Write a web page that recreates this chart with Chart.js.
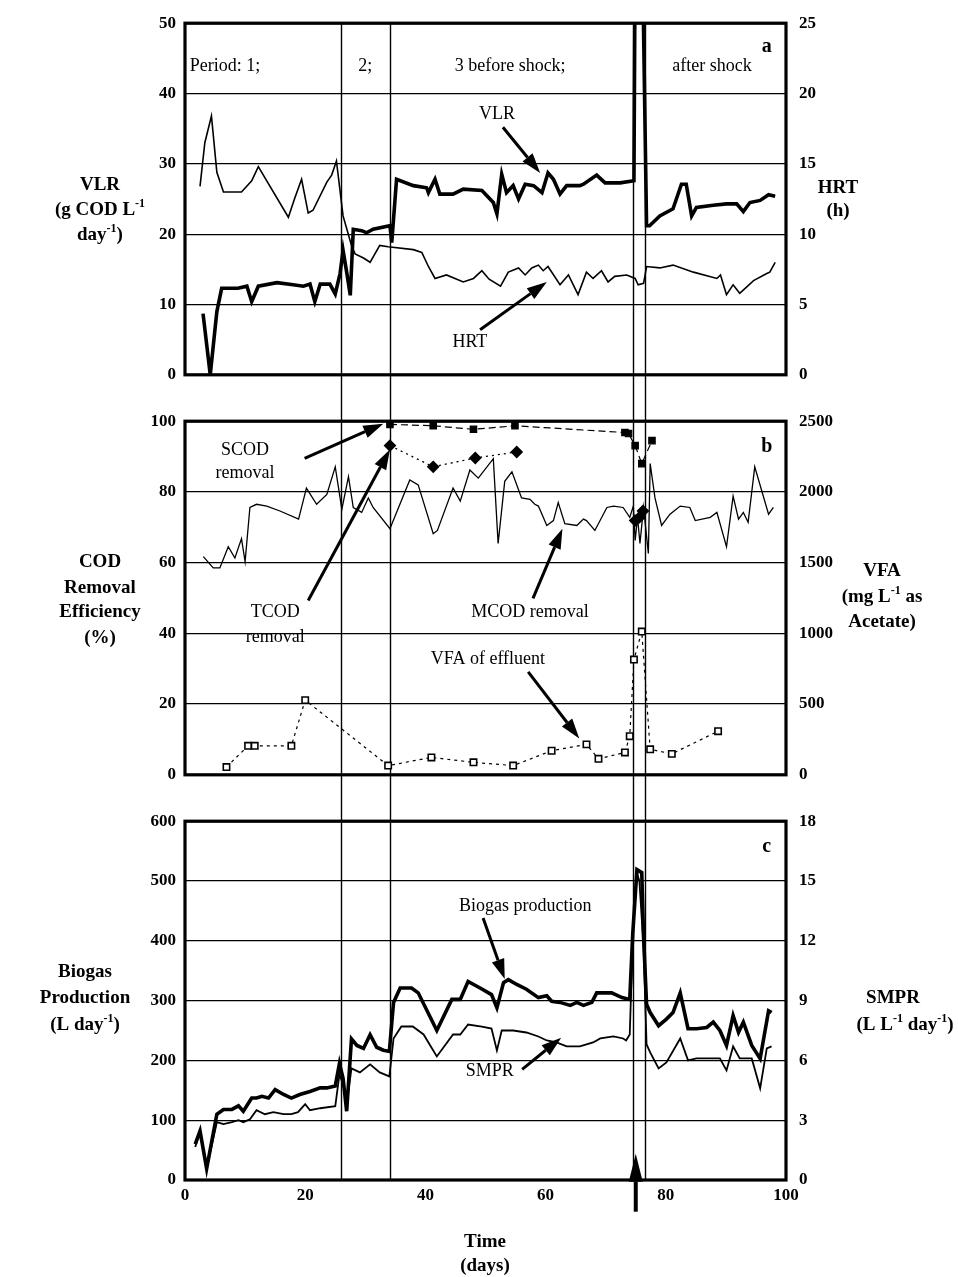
<!DOCTYPE html>
<html><head><meta charset="utf-8">
<script src="https://cdn.jsdelivr.net/npm/chart.js@4.4.1/dist/chart.umd.min.js"></script>
<style>
html,body{margin:0;padding:0;background:#fff;}
#wrap{position:relative;width:958px;height:1277px;overflow:hidden;}
.pane{position:absolute;left:0;width:958px;}
canvas{display:block;}
</style></head><body>
<div id="wrap">
<div class="pane" style="top:0;height:398px"><canvas id="ca" width="958" height="398"></canvas></div>
<div class="pane" style="top:398px;height:400px"><canvas id="cb" width="958" height="400"></canvas></div>
<div class="pane" style="top:798px;height:479px"><canvas id="cc" width="958" height="479"></canvas></div>
</div>
<script>
// ---------- DATA (day, value) ----------
const periodLines = [26, 34.1, 74.5, 76.5];
const xTicks = [0, 20, 40, 60, 80, 100];

// Panel a
const vlrPoints = [[3.0,8.7],[4.2,0],[5.3,9],[6.1,12.3],[7.5,12.3],[8.8,12.3],[10.3,12.6],[11.1,10.4],[12.2,12.6],[15.3,13.1],[18.0,12.8],[19.7,12.6],[20.8,12.9],[21.6,10.4],[22.5,12.9],[24.1,12.9],[25.0,11.5],[25.8,14.4],[26.3,17.7],[26.9,14.6],[27.5,11.3],[28.0,20.7],[29.4,20.5],[30.2,20.2],[31.3,20.7],[34.1,21.2],[34.4,18.8],[35.2,27.8],[38.0,26.9],[40.2,26.6],[40.5,25.9],[41.6,27.8],[42.4,25.7],[44.6,25.7],[46.3,26.4],[49.4,26.2],[51.3,24.5],[51.9,22.9],[52.7,28.5],[53.5,25.9],[54.6,26.9],[55.5,25.0],[56.6,27.1],[58.0,26.9],[59.4,25.9],[60.4,28.7],[61.3,27.8],[62.4,25.7],[63.5,26.9],[65.7,26.9],[66.3,27.1],[68.5,28.4],[69.9,27.3],[72.4,27.3],[74.7,27.6],[74.9,60],[76.1,60],[76.8,21.2],[77.3,21.2],[79.0,22.6],[81.2,23.6],[82.6,27.1],[83.4,27.1],[84.3,22.6],[85.1,23.8],[87.9,24.1],[90.1,24.3],[91.8,24.3],[92.9,23.2],[94.0,24.5],[95.7,24.8],[97.1,25.6],[98.2,25.4]];
const hrtPoints = [[2.5,13.4],[3.3,16.5],[4.4,18.4],[5.3,14.4],[6.4,13.0],[9.4,13.0],[11.1,13.8],[12.2,14.8],[17.2,11.2],[18.3,12.6],[19.4,13.9],[20.5,11.5],[21.3,11.7],[23.6,13.7],[24.4,14.2],[25.2,15.2],[26.3,11.3],[26.9,10.4],[27.7,9.2],[28.3,8.6],[29.7,8.3],[30.8,8.0],[32.4,9.2],[33.8,9.1],[38.0,8.9],[39.4,8.7],[40.5,7.7],[41.6,6.85],[43.5,7.1],[46.3,6.6],[48.0,6.85],[49.4,7.4],[50.6,6.8],[52.5,6.3],[53.8,7.3],[55.5,7.6],[56.6,7.1],[57.7,7.6],[58.8,7.8],[59.6,7.4],[60.4,7.7],[62.4,6.4],[63.8,7.1],[65.4,5.7],[66.8,7.3],[67.9,6.85],[69.3,7.4],[70.4,6.6],[71.5,7.0],[73.5,7.1],[74.9,6.85],[75.4,6.4],[76.3,6.5],[76.8,7.7],[79.0,7.6],[81.2,7.8],[84.6,7.3],[88.5,6.85],[89.1,7.1],[90.1,5.7],[91.2,6.4],[92.3,5.8],[94.6,6.7],[96.8,7.2],[97.3,7.3],[98.2,8.0]];

// Panel b
const mcodPoints = [[3.05,61.7],[4.7,58.5],[5.8,58.5],[7.2,64.5],[8.3,61.3],[9.4,66.8],[10.0,60.3],[10.8,75.6],[11.9,76.5],[13.6,76.0],[15.8,74.6],[18.9,72.3],[20.2,81.1],[21.9,76.5],[23.6,79.3],[25.0,87.1],[26.1,75.1],[27.2,84.3],[28.0,75.6],[29.4,74.2],[30.5,78.3],[31.3,75.6],[34.1,69.6],[37.4,83.4],[38.8,82.0],[41.3,68.2],[42.0,69.1],[44.6,81.1],[45.8,77.4],[47.4,86.2],[48.8,83.9],[51.3,89.4],[52.1,65.4],[53.2,83.0],[54.4,85.7],[56.0,78.3],[57.4,77.9],[58.2,76.5],[58.8,76.0],[60.2,70.5],[61.3,71.9],[62.1,77.0],[63.2,71.0],[65.2,70.5],[66.3,72.3],[66.8,71.9],[68.2,69.1],[70.2,75.6],[71.3,76.0],[72.9,75.6],[74.0,72.8],[74.6,76.0],[74.9,66.3],[75.3,72.8],[75.7,65.4],[76.3,75.6],[77.1,62.6],[77.4,88.0],[78.2,78.3],[79.3,70.5],[80.7,73.7],[82.4,76.0],[84.0,75.6],[84.9,71.9],[87.4,72.8],[88.5,74.2],[90.1,64.5],[91.2,78.8],[92.1,72.3],[92.9,74.2],[93.7,71.4],[94.8,87.1],[97.1,73.7],[97.9,75.6]];
const scodPoints = [[34.1,99.1],[41.3,98.7],[48.0,97.7],[54.9,98.7],[73.2,96.8],[73.8,96.5],[74.9,93.1],[76.0,88.0],[77.7,94.5]];
const tcodPoints = [[34.1,93.1],[41.3,87.1],[48.3,89.6],[55.2,91.3],[65.0,null],[74.9,71.9],[75.6,72.8],[76.2,74.6]];
const vfaPoints = [[6.9,55],[10.5,205],[11.6,205],[17.7,205],[20.0,528],[33.8,65],[41.0,123],[48.0,88],[54.6,65],[61.0,170],[66.8,215],[68.8,113],[73.2,158],[74.0,273],[74.7,815],[76.0,1013],[77.4,180],[81.0,148],[88.7,308]];

// Panel c
const biogasPoints = [[1.7,60],[2.5,82],[3.6,19],[5.3,110],[6.4,118],[7.8,118],[8.9,124],[9.7,115],[11.1,137],[11.9,137],[12.8,140],[13.9,137],[15.0,151],[16.4,143],[17.7,137],[19.1,143],[20.8,148],[22.5,154],[23.6,154],[25.0,157],[25.7,195],[26.3,170],[26.9,115],[27.7,236],[28.6,225],[29.7,220],[30.8,243],[31.9,222],[33.0,217],[34.0,215],[34.7,297],[35.8,321],[37.7,321],[38.8,313],[41.9,250],[44.4,302],[45.8,302],[47.1,332],[49.1,321],[51.0,310],[51.9,288],[53.0,330],[53.8,335],[55.2,327],[56.8,319],[58.8,305],[60.2,308],[61.0,299],[62.4,297],[64.1,292],[65.2,297],[66.3,292],[67.7,297],[68.5,313],[71.0,313],[72.7,305],[74.0,302],[74.5,412],[75.2,519],[76.0,514],[76.3,407],[76.8,294],[77.4,280],[78.8,258],[80.1,269],[81.2,280],[82.4,313],[83.7,253],[85.1,253],[86.8,255],[87.9,264],[89.0,250],[90.1,225],[91.2,275],[92.1,247],[92.9,264],[94.3,225],[95.7,203],[97.1,283],[97.6,280]];
const smprPoints = [[1.7,1.66],[2.5,2.4],[3.6,0.58],[5.3,2.9],[6.4,2.8],[7.8,2.9],[8.9,3.0],[9.7,2.9],[10.8,3.05],[11.9,3.5],[13.3,3.3],[14.7,3.4],[16.4,3.3],[17.7,3.3],[18.8,3.4],[20.0,3.8],[20.8,3.5],[22.5,3.6],[25.0,3.7],[25.7,5.3],[26.3,4.8],[26.9,3.8],[27.7,5.6],[29.1,5.4],[30.8,5.8],[32.4,5.4],[34.0,5.2],[34.7,7.1],[36.0,7.7],[37.9,7.7],[39.7,7.3],[41.9,6.2],[44.6,7.3],[45.8,7.3],[47.1,7.8],[49.4,7.7],[51.0,7.6],[51.9,6.5],[52.7,7.5],[54.6,7.5],[56.8,7.4],[58.8,7.2],[60.2,7.0],[61.8,6.9],[63.5,6.7],[65.7,6.7],[67.9,6.9],[69.1,7.1],[71.3,7.2],[72.9,7.1],[73.4,7.0],[74.0,7.3],[74.6,12.9],[75.2,15.4],[75.6,15.0],[76.3,11.7],[76.8,6.8],[77.4,6.4],[78.8,5.6],[80.1,5.9],[82.4,7.1],[83.7,6.0],[85.1,6.1],[87.9,6.1],[89.0,6.1],[90.1,5.5],[91.2,6.7],[92.3,6.1],[94.3,6.1],[95.7,4.6],[96.8,6.6],[97.6,6.7]];

// ---------- helpers ----------
const FONT = '"Liberation Serif", "Times New Roman", serif';
const xy = pts => pts.map(([x, y]) => ({x, y}));

function segFont(size, sup, bold){ return `${bold ? 'bold ' : ''}${sup ? Math.round(size * 0.62) : size}px ${FONT}`; }
function drawRich(ctx, segs, cx, cy, size, bold, align){
  let w = 0;
  for (const [t, s] of segs){ ctx.font = segFont(size, s, bold); w += ctx.measureText(t).width; }
  let x = align === 'left' ? cx : cx - w / 2;
  ctx.textAlign = 'left'; ctx.textBaseline = 'middle';
  for (const [t, s] of segs){
    ctx.font = segFont(size, s, bold);
    ctx.fillText(t, x, s ? cy - size * 0.32 : cy);
    x += ctx.measureText(t).width;
  }
}
function drawArrow(ctx, x1, y1, x2, y2, lw, hl, hw){
  const a = Math.atan2(y2 - y1, x2 - x1);
  const bx = x2 - hl * Math.cos(a), by = y2 - hl * Math.sin(a);
  ctx.lineWidth = lw; ctx.lineCap = 'butt';
  ctx.beginPath(); ctx.moveTo(x1, y1); ctx.lineTo(bx, by); ctx.stroke();
  ctx.beginPath();
  ctx.moveTo(x2, y2);
  ctx.lineTo(bx + hw * Math.sin(a), by - hw * Math.cos(a));
  ctx.lineTo(bx - hw * Math.sin(a), by + hw * Math.cos(a));
  ctx.closePath(); ctx.fill();
}

const deco = {
  id: 'deco',
  beforeDatasetsDraw(chart, args, o){
    const {ctx, chartArea: ca, scales} = chart;
    ctx.save(); ctx.strokeStyle = '#000'; ctx.lineWidth = 1.4;
    const top = o.vTop === 'area' ? ca.top : 0;
    const bot = o.vBottom === 'area' ? ca.bottom : chart.height;
    for (const d of periodLines){
      const px = Math.round(scales.x.getPixelForValue(d)) + 0.5;
      ctx.beginPath(); ctx.moveTo(px, top); ctx.lineTo(px, bot); ctx.stroke();
    }
    ctx.restore();
  },
  afterDatasetsDraw(chart){
    const {ctx, chartArea: ca} = chart;
    ctx.save(); ctx.strokeStyle = '#000'; ctx.lineWidth = 3.2;
    ctx.strokeRect(ca.left, ca.top, ca.width, ca.height);
    ctx.restore();
  },
  afterDraw(chart, args, o){
    const {ctx, scales} = chart;
    ctx.save(); ctx.fillStyle = '#000'; ctx.strokeStyle = '#000';
    for (const t of (o.titles || [])){
      drawRich(ctx, t.segs, t.x, t.y - o.offset, t.size || 19, true, 'center');
    }
    for (const n of (o.notes || [])){
      const ys = scales[n.axis || 'y'];
      drawRich(ctx, [[n.t, 0]], scales.x.getPixelForValue(n.x), ys.getPixelForValue(n.y), n.size || 18, !!n.bold, n.align || 'center');
    }
    for (const a of (o.arrows || [])){
      const ys = scales[a.axis || 'y'];
      drawArrow(ctx, scales.x.getPixelForValue(a.x1), ys.getPixelForValue(a.y1),
        scales.x.getPixelForValue(a.x2), ys.getPixelForValue(a.y2), a.lw || 3, a.hl || 20, a.hw || 6.5);
    }
    ctx.restore();
  }
};
Chart.register(deco);

function yAxis(pos, min, max, step, grid){
  return {
    type: 'linear', position: pos, min, max,
    ticks: {stepSize: step, color: '#000', font: {family: FONT, weight: 'bold', size: 17}, padding: pos === 'left' ? 9 : 13,
      callback: v => String(v)},
    grid: {display: grid, color: '#000', lineWidth: 1.3, drawTicks: false},
    border: {display: false},
    afterFit(s){ s.width = pos === 'left' ? 185 : 172; }
  };
}
function xAxis(show){
  return {
    type: 'linear', min: 0, max: 100, display: show,
    ticks: {stepSize: 20, color: '#000', font: {family: FONT, weight: 'bold', size: 17}, padding: 5, maxRotation: 0, autoSkip: false,
      callback: v => String(v)},
    afterBuildTicks(s){ s.ticks = xTicks.map(v => ({value: v})); },
    grid: {display: false, drawTicks: false},
    border: {display: false},
    afterFit(s){ if (show) s.height = 97; }
  };
}
const base = (extra) => Object.assign({
  responsive: false, animation: false,
  plugins: {legend: {display: false}, tooltip: {enabled: false}},
  elements: {line: {tension: 0}, point: {radius: 0}}
}, extra);

// ---------- Panel a ----------
new Chart(document.getElementById('ca'), {
  type: 'line',
  data: {datasets: [
    {label: 'VLR', data: xy(vlrPoints), yAxisID: 'y', borderColor: '#000', borderWidth: 3.6, pointRadius: 0},
    {label: 'HRT', data: xy(hrtPoints), yAxisID: 'y1', borderColor: '#000', borderWidth: 1.6, pointRadius: 0}
  ]},
  options: base({
    layout: {padding: {top: 18, bottom: 20, left: 0, right: 0}},
    scales: {x: xAxis(false), y: yAxis('left', 0, 50, 10, true), y1: yAxis('right', 0, 25, 5, false)},
    plugins: {legend: {display: false}, tooltip: {enabled: false}, deco: {
      offset: 0, vTop: 'area', vBottom: 'canvas',
      titles: [
        {segs: [['VLR', 0]], x: 100, y: 185},
        {segs: [['(g COD L', 0], ['-1', 1]], x: 100, y: 210},
        {segs: [['day', 0], ['-1', 1], [')', 0]], x: 100, y: 235},
        {segs: [['HRT', 0]], x: 838, y: 188},
        {segs: [['(h)', 0]], x: 838, y: 211}
      ],
      notes: [
        {t: 'Period: 1;', x: 0.8, y: 43.9, align: 'left'},
        {t: '2;', x: 30, y: 43.9},
        {t: '3 before shock;', x: 54.1, y: 43.9},
        {t: 'after shock', x: 87.7, y: 43.9},
        {t: 'a', x: 96.8, y: 46.7, bold: true, size: 20},
        {t: 'VLR', x: 51.9, y: 37.0},
        {t: 'HRT', x: 47.4, y: 4.6}
      ],
      arrows: [
        {x1: 52.9, y1: 35.2, x2: 59.1, y2: 28.7},
        {x1: 49.1, y1: 6.4, x2: 60.2, y2: 13.2}
      ]
    }}
  })
});

// ---------- Panel b ----------
new Chart(document.getElementById('cb'), {
  type: 'line',
  data: {datasets: [
    {label: 'MCOD removal', data: xy(mcodPoints), yAxisID: 'y', borderColor: '#000', borderWidth: 1.3, pointRadius: 0},
    {label: 'SCOD removal', data: xy(scodPoints), yAxisID: 'y', borderColor: '#000', borderWidth: 1.2, borderDash: [7, 4],
      pointStyle: 'rect', pointRadius: 4.5, pointBackgroundColor: '#000', pointBorderColor: '#000'},
    {label: 'TCOD removal', data: xy(tcodPoints), yAxisID: 'y', borderColor: '#000', borderWidth: 1.3, borderDash: [2, 4], spanGaps: false,
      pointStyle: 'rectRot', pointRadius: 5.5, pointBackgroundColor: '#000', pointBorderColor: '#000'},
    {label: 'VFA of effluent', data: xy(vfaPoints), yAxisID: 'y1', borderColor: '#000', borderWidth: 1.2, borderDash: [3, 4],
      pointStyle: 'rect', pointRadius: 4.5, pointBackgroundColor: '#fff', pointBorderColor: '#000', pointBorderWidth: 1.6}
  ]},
  options: base({
    layout: {padding: {top: 19, bottom: 20, left: 0, right: 0}},
    scales: {x: xAxis(false), y: yAxis('left', 0, 100, 20, true), y1: yAxis('right', 0, 2500, 500, false)},
    plugins: {legend: {display: false}, tooltip: {enabled: false}, deco: {
      offset: 398, vTop: 'canvas', vBottom: 'canvas',
      titles: [
        {segs: [['COD', 0]], x: 100, y: 562},
        {segs: [['Removal', 0]], x: 100, y: 588},
        {segs: [['Efficiency', 0]], x: 100, y: 612},
        {segs: [['(%)', 0]], x: 100, y: 638},
        {segs: [['VFA', 0]], x: 882, y: 571},
        {segs: [['(mg L', 0], ['-1', 1], [' as', 0]], x: 882, y: 597},
        {segs: [['Acetate)', 0]], x: 882, y: 622}
      ],
      notes: [
        {t: 'SCOD', x: 10, y: 91.7},
        {t: 'removal', x: 10, y: 85.3},
        {t: 'TCOD', x: 15, y: 46},
        {t: 'removal', x: 15, y: 38.8},
        {t: 'b', x: 96.8, y: 92.8, bold: true, size: 20},
        {t: 'MCOD removal', x: 57.4, y: 46},
        {t: 'VFA of effluent', x: 50.4, y: 32.7}
      ],
      arrows: [
        {x1: 19.9, y1: 89.5, x2: 33.0, y2: 99.3},
        {x1: 20.5, y1: 49.3, x2: 34.1, y2: 92.0},
        {x1: 57.9, y1: 49.9, x2: 62.8, y2: 69.6},
        {x1: 57.1, y1: 29.1, x2: 65.6, y2: 10.3}
      ]
    }}
  })
});

// ---------- Panel c ----------
new Chart(document.getElementById('cc'), {
  type: 'line',
  data: {datasets: [
    {label: 'Biogas production', data: xy(biogasPoints), yAxisID: 'y', borderColor: '#000', borderWidth: 3.6, pointRadius: 0},
    {label: 'SMPR', data: xy(smprPoints), yAxisID: 'y1', borderColor: '#000', borderWidth: 1.8, pointRadius: 0}
  ]},
  options: base({
    layout: {padding: {top: 19, bottom: 0, left: 0, right: 0}},
    scales: {x: xAxis(true), y: yAxis('left', 0, 600, 100, true), y1: yAxis('right', 0, 18, 3, false)},
    plugins: {legend: {display: false}, tooltip: {enabled: false}, deco: {
      offset: 798, vTop: 'canvas', vBottom: 'area',
      titles: [
        {segs: [['Biogas', 0]], x: 85, y: 972},
        {segs: [['Production', 0]], x: 85, y: 998},
        {segs: [['(L day', 0], ['-1', 1], [')', 0]], x: 85, y: 1025},
        {segs: [['SMPR', 0]], x: 893, y: 998},
        {segs: [['(L L', 0], ['-1', 1], [' day', 0], ['-1', 1], [')', 0]], x: 905, y: 1025},
        {segs: [['Time', 0]], x: 485, y: 1242},
        {segs: [['(days)', 0]], x: 485, y: 1266}
      ],
      notes: [
        {t: 'c', x: 96.8, y: 557, bold: true, size: 20},
        {t: 'Biogas production', x: 56.6, y: 458},
        {t: 'SMPR', x: 50.7, y: 182}
      ],
      arrows: [
        {x1: 49.6, y1: 438, x2: 53.2, y2: 336},
        {x1: 56.1, y1: 185, x2: 62.6, y2: 238},
        {x1: 75.0, y1: -53, x2: 75.0, y2: 44, lw: 4, hl: 28, hw: 7}
      ]
    }}
  })
});
</script>
</body></html>
